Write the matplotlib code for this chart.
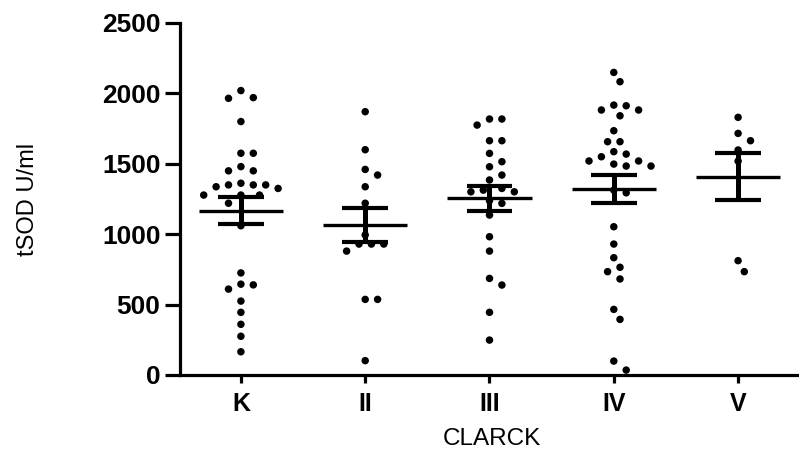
import numpy as np
import matplotlib
matplotlib.use('Agg')
import matplotlib.pyplot as plt

plt.rcParams['font.family'] = ['Liberation Sans', 'DejaVu Sans']

groups = ['K', 'II', 'III', 'IV', 'V']
k_vals = [2020, 1965, 1970, 1800, 1575, 1575, 1450, 1450, 1480, 1350, 1325, 1350,
          1362, 1337, 1350, 1278, 1278, 1278, 1220, 1060, 725, 640, 645, 610, 525,
          445, 360, 275, 165]
ii_vals = [1870, 1600, 1460, 1420, 1337, 1220, 995, 930, 930, 930, 880, 537, 537, 102]
iii_vals = [1818, 1818, 1775, 1664, 1664, 1574, 1515, 1479, 1420, 1385, 1313, 1301,
            1325, 1301, 1238, 1219, 1136, 982, 880, 686, 639, 445, 248]
iv_vals = [2149, 2083, 1917, 1882, 1841, 1882, 1912, 1735, 1657, 1657, 1586, 1550,
           1569, 1520, 1498, 1520, 1484, 1484, 1313, 1294, 1053, 930, 833, 765, 734,
           682, 466, 395, 99, 35]
v_vals = [1830, 1716, 1664, 1598, 1519, 812, 734]
means = [1167, 1065, 1254, 1320, 1408]
sems = [97, 118, 88, 98, 168]
y_ticks = [0, 500, 1000, 1500, 2000, 2500]

all_vals = [k_vals, ii_vals, iii_vals, iv_vals, v_vals]

W, H = 799, 450
fig = plt.figure(figsize=(W / 100, H / 100), dpi=100)
ax = fig.add_axes([180 / W, 75 / H, 619 / W, 352 / H])
xmin, xmax = -0.49, 4.49
ax.set_xlim(xmin, xmax)
ax.set_ylim(0, 2500)

px_per_x = 619 / (xmax - xmin)
px_per_y = 352 / 2500


def swarm(vals, D=11.0, step=6.2):
    placed = []
    offs = np.zeros(len(vals))
    order = np.argsort(vals)[::-1]
    cands = [0.0]
    for n in range(1, 30):
        cands += [n * step, -n * step]
    for i in order:
        y = vals[i] * px_per_y
        chosen = 0.0
        for c in cands:
            if all((c - px) ** 2 + (y - py) ** 2 >= D * D for px, py in placed):
                chosen = c
                break
        placed.append((chosen, y))
        offs[i] = chosen / px_per_x
    return offs


for i, vals in enumerate(all_vals):
    vals = np.array(vals, dtype=float)
    offs = swarm(vals)
    ax.scatter(i + offs, vals, s=29, color='black', edgecolors='none', zorder=2)
    m, s = means[i], sems[i]
    ax.hlines(m, i - 0.34, i + 0.34, color='black', lw=2.4, zorder=3)
    ax.hlines([m - s, m + s], i - 0.185, i + 0.185, color='black', lw=3.0, zorder=3)
    ax.vlines(i, m - s, m + s, color='black', lw=3.6, zorder=3)

for sp in ['top', 'right']:
    ax.spines[sp].set_visible(False)
for sp in ['left', 'bottom']:
    ax.spines[sp].set_linewidth(2.3)

ax.set_yticks(y_ticks)
ax.set_yticklabels([str(t) for t in y_ticks], fontsize=19, fontweight='bold')
ax.set_xticks(range(len(groups)))
ax.set_xticklabels(groups, fontsize=18, fontweight='bold')
ax.tick_params(axis='y', length=11, width=2.3, pad=3)
ax.tick_params(axis='x', length=6, width=2.3, pad=6)

ax.set_ylabel('tSOD U/ml', fontsize=17)
ax.yaxis.set_label_coords(-0.228, 0.5)
ax.set_xlabel('CLARCK', fontsize=17.5, va='top')
ax.xaxis.set_label_coords(0.504, -0.15)

fig.savefig('out.png', dpi=100)
